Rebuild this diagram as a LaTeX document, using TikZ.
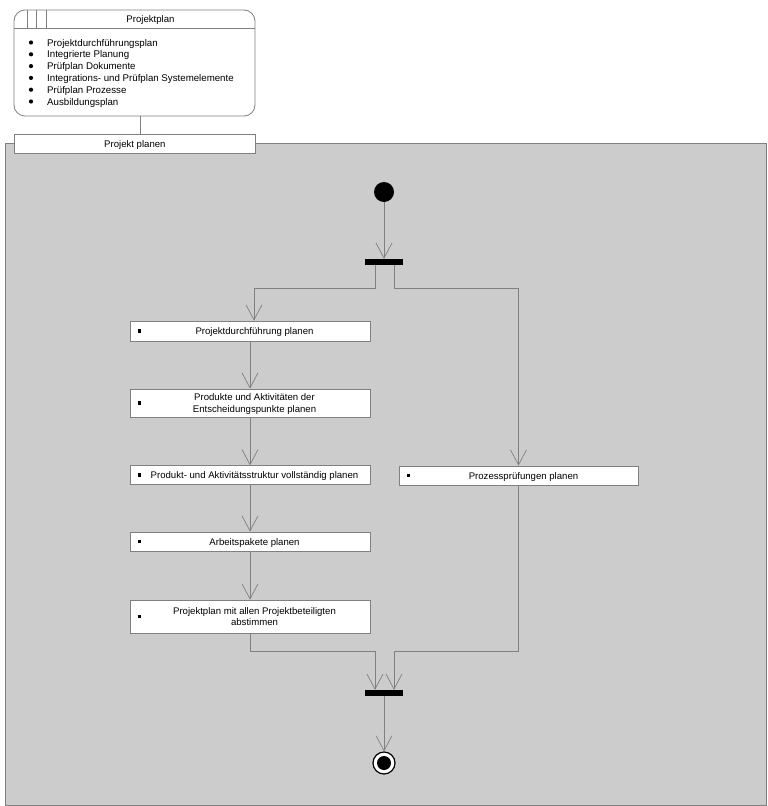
\documentclass[tikz,border=0pt]{standalone}
\usepackage{fontspec}
\setmainfont{Liberation Sans}
\usetikzlibrary{arrows.meta}
\definecolor{bggray}{HTML}{CCCCCC}
\definecolor{lgray}{HTML}{808080}
\tikzset{
  actbox/.style={draw=lgray, fill=white, line width=0.8pt, minimum width=240pt, inner sep=0pt},
  acttext/.style={inner sep=0pt, align=center, anchor=base, font=\fontsize{9.6}{11.7}\selectfont},
  listtext/.style={inner sep=0pt, anchor=base west, font=\fontsize{9.7}{11.7}\selectfont},
  flow/.style={draw=lgray, line width=0.8pt, -{Straight Barb[length=15pt,width=16pt,line width=0.7pt]}},
  plain/.style={draw=lgray, line width=0.8pt},
  bar/.style={fill=black, draw=none, minimum width=38pt, minimum height=6pt, inner sep=0pt},
  sq/.style={fill=black, minimum size=3.2pt, inner sep=0pt}
}
\begin{document}
\begin{tikzpicture}[x=1pt,y=-1pt]
\useasboundingbox (0,0) rectangle (768,806);
% swimlane background
\node[draw=lgray, fill=bggray, line width=0.8pt, minimum width=761pt, minimum height=662pt, inner sep=0pt, anchor=north west] (lane) at (5,143) {};
% object node
\draw[lgray, line width=0.8pt, fill=white, rounded corners=11pt] (14,10) rectangle (255,116);
\coordinate (objbot) at (140,116);
\draw[lgray, line width=0.8pt] (14,28) -- (255,28);
\draw[lgray, line width=0.8pt] (27,10) -- (27,28);
\draw[lgray, line width=0.8pt] (36,10) -- (36,28);
\draw[lgray, line width=0.8pt] (46,10) -- (46,28);
\node[acttext] (objtitle) at (150.5,22.7) {Projektplan};
\foreach \t [count=\i] in {Projektdurchführungsplan,Integrierte Planung,Prüfplan Dokumente,Integrations- und Prüfplan Systemelemente,Prüfplan Prozesse,Ausbildungsplan}{
  \fill (31,{30.7+\i*11.8}) circle (2.1pt);
  \node[listtext] (item\i) at (47,{34.2+\i*11.8}) {\t};
}
% lane header
\node[draw=lgray, fill=white, line width=0.8pt, minimum width=241pt, minimum height=19pt, inner sep=0pt, anchor=north west] (header) at (14,134) {};
\node[acttext] (headert) at ([yshift=-3.7pt]header.center) {Projekt planen};
\draw[plain] (objbot) -- (objbot |- header.north);
% initial
\node[circle, fill=black, minimum size=20pt, inner sep=0pt] (start) at (384,192) {};
\node[bar] (fork) at (384,262) {};
\node[bar] (join) at (384,693) {};
\node[circle, draw=black, line width=1.2pt, fill=white, minimum size=22pt, inner sep=0pt] (endo) at (384,763) {};
\node[circle, fill=black, minimum size=14pt, inner sep=0pt] (endi) at (384,763) {};
% activities
\node[actbox, minimum height=20pt] (a1) at (250,331) {};
\node[actbox, minimum height=28pt] (a2) at (250,403) {};
\node[actbox, minimum height=18.5pt] (a3) at (250,475) {};
\node[actbox, minimum height=19pt] (a4) at (250,541.5) {};
\node[actbox, minimum height=33pt] (a5) at (250,616.5) {};
\node[actbox, minimum height=19pt, minimum width=239pt] (b1) at (518.5,475.5) {};
\node[acttext] (a1t) at ([xshift=4.5pt,yshift=-3.7pt]a1.center) {Projektdurchführung planen};
\node[acttext] (a2t) at ([xshift=4.5pt,yshift=-9.6pt]a2.center) {Produkte und Aktivitäten der\\Entscheidungspunkte planen};
\node[acttext] (a3t) at ([xshift=4.5pt,yshift=-3.7pt]a3.center) {Produkt- und Aktivitätsstruktur vollständig planen};
\node[acttext] (a4t) at ([xshift=4.5pt,yshift=-3.7pt]a4.center) {Arbeitspakete planen};
\node[acttext] (a5t) at ([xshift=4.5pt,yshift=-9.4pt]a5.center) {Projektplan mit allen Projektbeteiligten\\abstimmen};
\node[acttext] (b1t) at ([xshift=5pt,yshift=-3.7pt]b1.center) {Prozessprüfungen planen};
\foreach \n in {a1,a2,a3,a4,a5,b1}{
  \node[sq] (\n sq) at ([xshift=10pt]\n.west) {};
}
% connectors
\draw[flow] (start) -- (fork);
\draw[flow] ([xshift=-9pt]fork.south) -- ++(0,23) -| ([xshift=4pt]a1.north);
\draw[flow] ([xshift=10pt]fork.south) -- ++(0,23) -| (b1.north);
\draw[flow] (a1) -- (a2);
\draw[flow] (a2) -- (a3);
\draw[flow] (a3) -- (a4);
\draw[flow] (a4) -- (a5);
\draw[flow] (a5.south) -- ++(0,18) -| ([xshift=-9pt]join.north);
\draw[flow] (b1.south) |- (394,651) -- ([xshift=10pt]join.north);
\draw[flow] (join) -- (endo);
\end{tikzpicture}
\end{document}
